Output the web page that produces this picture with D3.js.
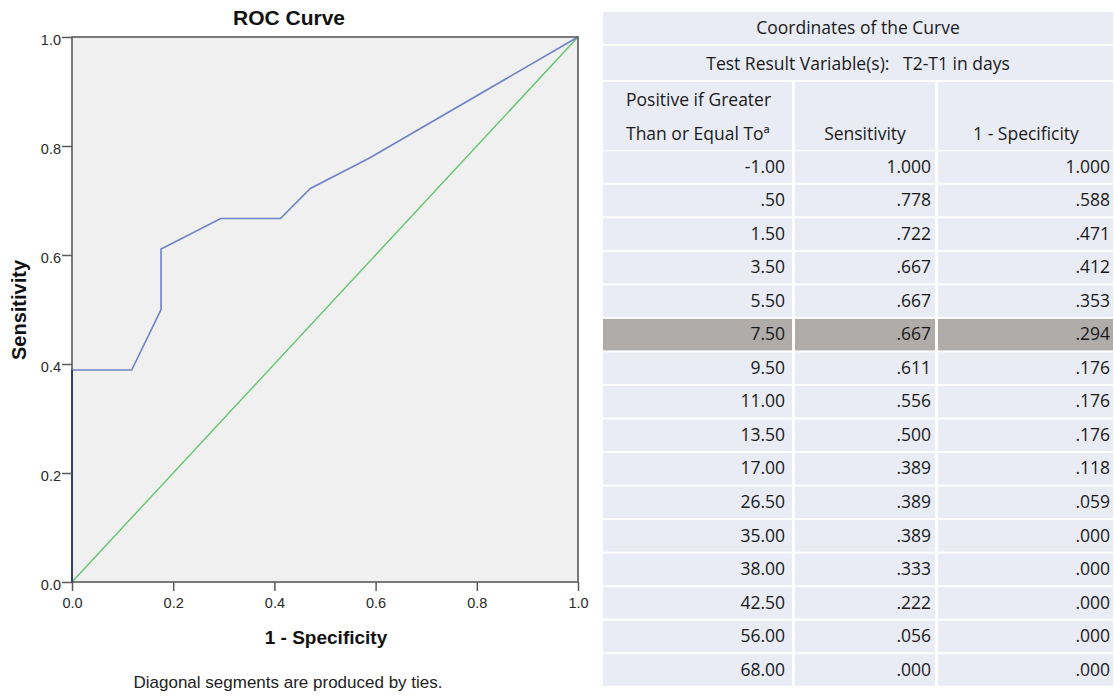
<!DOCTYPE html>
<html>
<head>
<meta charset="utf-8">
<script src="https://cdn.jsdelivr.net/npm/d3@7"></script>
<style>
  body { margin: 0; background: #fff; }
  svg { display: block; }
  .tick text { font-size: 14.5px; font-family: "Liberation Sans", Arial, sans-serif; fill: #2a2a2a; }
</style>
</head>
<body>
<svg id="chart"></svg>
<script>
    // data from the SPSS coordinates table
    var cutoffs = ['-1.00', '.50', '1.50', '3.50', '5.50', '7.50', '9.50', '11.00', '13.50', '17.00', '26.50', '35.00', '38.00', '42.50', '56.00', '68.00'];
    var sensitivity = [1.000, .778, .722, .667, .667, .667, .611, .556, .500, .389, .389, .389, .333, .222, .056, .000];
    var oneMinusSpec = [1.000, .588, .471, .412, .353, .294, .176, .176, .176, .118, .059, .000, .000, .000, .000, .000];
    var ticks = [0, 0.2, 0.4, 0.6, 0.8, 1.0];
    var highlightRow = 5;

    var W = 1114, H = 696;
    var svg = d3.select('#chart').attr('width', W).attr('height', H);

    // ----------------------------------- ROC plot
    var pL = 72, pR = 578, pT = 37, pB = 582;
    var x = d3.scaleLinear().domain([0, 1]).range([pL, pR]);
    var y = d3.scaleLinear().domain([0, 1]).range([pB, pT]);
    var chartFont = 'Liberation Sans, Arial, sans-serif';

    svg.append('rect')
        .attr('x', pL).attr('y', pT)
        .attr('width', pR - pL).attr('height', pB - pT)
        .attr('fill', '#f0f0f0');

    // reference diagonal
    svg.append('path')
        .datum([0, 1])
        .attr('fill', 'none')
        .attr('stroke', '#62c66f')
        .attr('stroke-width', 1.4)
        .attr('d', d3.line().x(function(d){ return x(d); }).y(function(d){ return y(d); }));

    var pts = oneMinusSpec.map(function(v, i){ return {x: v, y: sensitivity[i]}; });
    var line = d3.line()
        .x(function(d){ return x(d.x); })
        .y(function(d){ return y(d.y); });
    svg.append('path')
        .datum(pts)
        .attr('fill', 'none')
        .attr('stroke', '#6e82c8')
        .attr('stroke-width', 1.6)
        .attr('d', line);

    // frame
    svg.append('rect')
        .attr('x', pL).attr('y', pT)
        .attr('width', pR - pL).attr('height', pB - pT)
        .attr('fill', 'none')
        .attr('stroke', '#5a5a5a')
        .attr('stroke-width', 1.6);
    // the part of the curve on x=0 shows darker in the original
    svg.append('path')
        .datum(pts.filter(function(d){ return d.x === 0; }))
        .attr('fill', 'none')
        .attr('stroke', '#2a3566')
        .attr('stroke-width', 1.6)
        .attr('d', line);

    var fmt = d3.format('.1f');
    var xAxis = svg.append('g')
        .attr('transform', 'translate(0,' + pB + ')')
        .call(d3.axisBottom(x).tickValues(ticks).tickFormat(fmt).tickSize(9).tickSizeOuter(0));
    var yAxis = svg.append('g')
        .attr('transform', 'translate(' + pL + ',0)')
        .call(d3.axisLeft(y).tickValues(ticks).tickFormat(fmt).tickSize(10).tickSizeOuter(0));
    [xAxis, yAxis].forEach(function(a){
        a.attr('font-size', 14.5).attr('font-family', chartFont);
        a.select('.domain').remove();
        a.selectAll('line').attr('stroke', '#5a5a5a').attr('stroke-width', 1.5);
    });
    xAxis.selectAll('text').attr('dy', '0.95em');
    yAxis.selectAll('text').attr('x', -11).attr('dy', '0.52em');

    svg.append('text')
        .attr('x', 289).attr('y', 25)
        .attr('text-anchor', 'middle')
        .style('font-family', chartFont)
        .style('font-size', '21px').style('font-weight', 'bold')
        .attr('fill', '#111')
        .text('ROC Curve');

    svg.append('text')
        .attr('x', 326).attr('y', 644)
        .attr('text-anchor', 'middle')
        .style('font-family', chartFont)
        .style('font-size', '19px').style('font-weight', 'bold')
        .attr('fill', '#111')
        .text('1 - Specificity');

    svg.append('text')
        .attr('transform', 'translate(26,' + 310 + ') rotate(-90)')
        .attr('text-anchor', 'middle')
        .style('font-family', chartFont)
        .style('font-size', '20px').style('font-weight', 'bold')
        .attr('fill', '#111')
        .text('Sensitivity');

    svg.append('text')
        .attr('x', 288).attr('y', 688)
        .attr('text-anchor', 'middle')
        .style('font-family', chartFont)
        .style('font-size', '17px')
        .attr('fill', '#222')
        .text('Diagonal segments are produced by ties.');

    // ----------------------------------- coordinates table
    var tfont = 'Open Sans, Noto Sans, sans-serif';
    var cellFill = '#e9ecf5';
    var cols = [[603, 792], [795, 935], [938, 1113]];
    var t = svg.append('g');

    function cell(x0, x1, y0, y1, fill) {
        t.append('rect').attr('x', x0).attr('y', y0)
            .attr('width', x1 - x0).attr('height', y1 - y0)
            .attr('fill', fill || cellFill);
    }
    function txt(xp, yp, s, anchor) {
        return t.append('text').attr('x', xp).attr('y', yp)
            .attr('text-anchor', anchor || 'start')
            .attr('dominant-baseline', 'middle')
            .style('font-family', tfont).style('font-size', '17.5px')
            .attr('fill', '#1a1a1a')
            .text(s);
    }

    cell(603, 1113, 12, 44);
    txt(858, 29, 'Coordinates of the Curve', 'middle');
    cell(603, 1113, 46, 80);
    txt(858, 65, 'Test Result Variable(s):\u00a0\u00a0 T2-T1 in days', 'middle');

    cols.forEach(function(c){ cell(c[0], c[1], 82, 150); });
    txt(626, 101, 'Positive if Greater');
    txt(626, 135, 'Than or Equal To\u00aa');
    txt(865, 135, 'Sensitivity', 'middle');
    txt(1026, 135, '1 - Specificity', 'middle');

    var ry = d3.scaleLinear().domain([0, cutoffs.length - 1]).range([167, 670]);
    var rowH = 31.5;
    var fmt3 = function(v){ return d3.format('.3f')(v).replace(/^0\./, '.'); };
    cutoffs.forEach(function(cv, i){
        var cy = ry(i);
        var f = i === highlightRow ? '#b0acaa' : cellFill;
        cols.forEach(function(c){ cell(c[0], c[1], cy - rowH / 2, cy + rowH / 2, f); });
        txt(785, cy + 1, cv, 'end');
        txt(931, cy + 1, fmt3(sensitivity[i]), 'end');
        txt(1110, cy + 1, fmt3(oneMinusSpec[i]), 'end');
    });
</script>
</body>
</html>
